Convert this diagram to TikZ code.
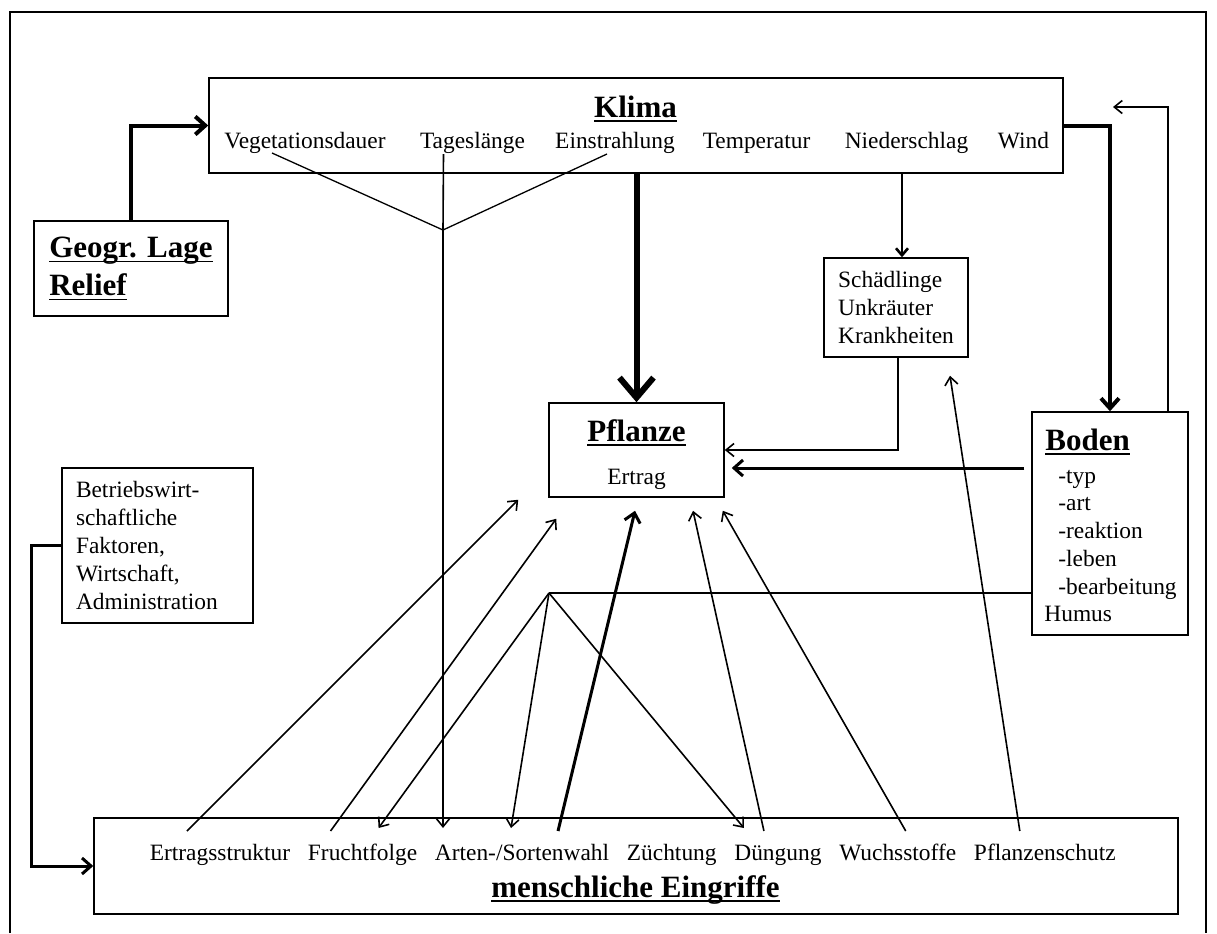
\documentclass[tikz,border=0pt]{standalone}
\usepackage{fontspec}
\setmainfont{Liberation Serif}
\usetikzlibrary{arrows.meta, positioning, calc}
\newsavebox\undlbox
\newcommand\undl[1]{\sbox\undlbox{#1}\rlap{\rule[-2.6pt]{\wd\undlbox}{0.9pt}}\usebox\undlbox}

\begin{document}
\begin{tikzpicture}[
  x=0.5pt, y=-0.5pt,
  node distance=8.5pt,
  every node/.style={font=\fontsize{11.7}{13.9}\selectfont},
  box/.style={draw, line width=0.75pt, inner sep=0pt},
  txt/.style={inner sep=0pt},
  ttl/.style={inner sep=0pt, font=\fontsize{15.5}{19}\selectfont\bfseries},
  ln/.style={line width=0.65pt},
  arr/.style={-{Straight Barb[length=4pt,width=6.5pt]}, line width=0.8pt},
  midarr/.style={-{Straight Barb[length=3.5pt,width=6pt]}, line width=1.3pt},
  medarr/.style={-{Straight Barb[length=4.5pt,width=8pt]}, line width=1.5pt},
  bigarr/.style={-{Straight Barb[length=5pt,width=9pt]}, line width=2pt},
  fatarr/.style={-{Straight Barb[length=10pt,width=17pt]}, line width=3pt}
]
\useasboundingbox (0,0) rectangle (1217,933);
\draw[line width=1.2pt] (10,933) -- (10,12) -- (1206,12) -- (1206,933);

\node[box, minimum width=427pt, minimum height=47.5pt] (klima) at (636,125.5) {};
\node[ttl, anchor=base] (klimatit) at (635.5,117) {\undl{Klima}};
\node[txt, anchor=base] (veg) at (305,148) {Vegetationsdauer};
\node[txt, anchor=base] (tag) at (472.5,148) {Tageslänge};
\node[txt, anchor=base] (ein) at (615,148) {Einstrahlung};
\node[txt, anchor=base] (tem) at (756.5,148) {Temperatur};
\node[txt, anchor=base] (nie) at (906.5,148) {Niederschlag};
\node[txt, anchor=base] (win) at (1023.5,148) {Wind};

\node[box, ttl, align=left, minimum width=97pt, minimum height=47.5pt] (geo) at (131,268.5)
  {\undl{Geogr. Lage}\\\undl{Relief}};

\node[box, align=left, minimum width=72pt, minimum height=49.5pt] (sch) at (896,307.5)
  {Schädlinge\\Unkräuter\\Krankheiten};

\node[box, minimum width=87.5pt, minimum height=47pt] (pfl) at (636.5,450) {};
\node[ttl, anchor=base] (pfltit) at (636.5,441) {\undl{Pflanze}};
\node[txt, anchor=base] (ertrag) at (636.5,484) {Ertrag};

\node[box, minimum width=78pt, minimum height=111.5pt] (bod) at (1110,523.5) {};
\node[ttl, anchor=base west] (bodtit) at (1045,450) {\undl{Boden}};
\node[txt, anchor=base west] (btyp) at (1058,483) {-typ};
\node[txt, anchor=base west] (bart) at (1058,510.5) {-art};
\node[txt, anchor=base west] (break) at (1058,538) {-reaktion};
\node[txt, anchor=base west] (bleb) at (1058,566) {-leben};
\node[txt, anchor=base west] (bbea) at (1058,594) {-bearbeitung};
\node[txt, anchor=base west] (bhum) at (1044,621) {Humus};

\node[box, align=left, text width=81.5pt, inner xsep=7pt, minimum height=77.5pt] (betr) at (157.5,545.5)
  {Betriebswirt-\\schaftliche\\Faktoren,\\Wirtschaft,\\Administration};

\node[box, minimum width=542pt, minimum height=48pt] (mensch) at (636,866) {};
\node[ttl, anchor=base] (menschtit) at (635.5,897) {\undl{menschliche Eingriffe}};
\node[txt, anchor=base] (ert) at (220,860) {Ertragsstruktur};
\node[txt, base right=of ert] (fru) {Fruchtfolge};
\node[txt, base right=of fru] (art) {Arten-/Sortenwahl};
\node[txt, base right=of art] (zue) {Züchtung};
\node[txt, base right=of zue] (due) {Düngung};
\node[txt, base right=of due] (wuc) {Wuchsstoffe};
\node[txt, base right=of wuc] (psch) {Pflanzenschutz};

\coordinate (knot) at (443,230);
\coordinate (hub) at (549,593);
\coordinate (schin) at ($(sch.north)+(6,0)$);
\coordinate (bodin) at ($(bod.west)+(0,-55.5)$);
\coordinate (fbtip) at (1113,107);

\draw[bigarr] (geo.north) |- (klima.west);
\draw[fatarr] (klima.south -| pfl.north) -- (pfl.north);
\draw[midarr] (klima.south -| schin) -- (schin);
\draw[arr] ($(sch.south)+(2,0)$) |- (pfl.east);
\draw[bigarr] (klima.east) -| (bod.north);
\draw[arr] ($(bod.north)+(58,0)$) |- (fbtip);
\draw[medarr, shorten <=3.5pt, shorten >=3.5pt] (bodin) -- (pfl.east |- bodin);

\draw[ln] ($(veg.base)+(-33,5)$) -- (knot) -- ($(ein.base)+(-8,6)$);
\draw[arr] ($(tag.base)+(-29,6)$) -- (knot) -- ($(knot |- art.base)+(0,-32)$);

\draw[ln] (bod.west |- hub) -- (hub);
\draw[arr] (hub) -- ($(fru.base)+(16,-32)$);
\draw[arr] (hub) -- ($(art.base)+(-11,-32)$);
\draw[arr] (hub) -- ($(due.base)+(-34,-32)$);

\draw[arr] ($(ert.base)+(-33,-29)$) -- ($(pfl.south west)+(-30,2)$);
\draw[arr] ($(fru.base)+(-32,-29)$) -- ($(pfl.south west)+(8,21)$);
\draw[medarr] ($(art.base)+(36,-29)$) -- ($(pfl.south)+(-1.5,13)$);
\draw[arr] ($(due.base)+(-14,-29)$) -- ($(pfl.south)+(56.5,13)$);
\draw[arr] ($(wuc.base)+(8,-29)$) -- ($(pfl.south east)+(-2,13)$);
\draw[arr] ($(psch.base)+(-25,-29)$) -- ($(sch.south)+(54,18)$);

\draw[medarr] (betr.west) -- ++(-30,0) |- (mensch.west);
\end{tikzpicture}
\end{document}
